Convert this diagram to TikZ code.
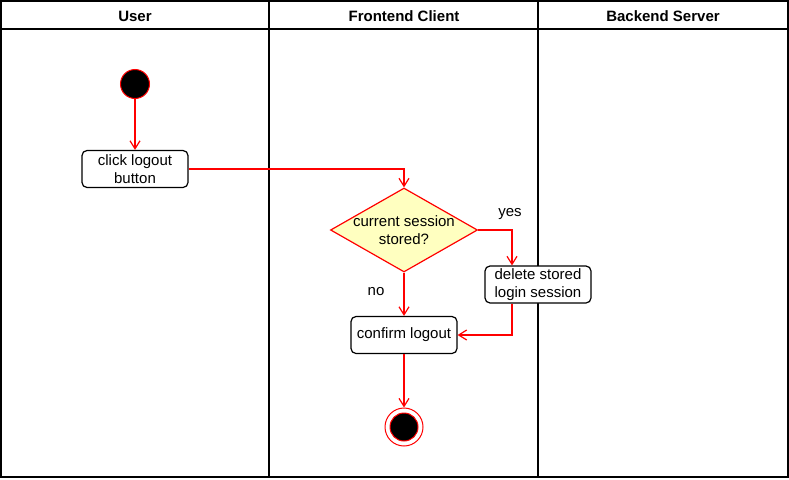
\documentclass[tikz,border=0pt]{standalone}
\usepackage{fontspec}
\setmainfont{Liberation Sans}
\usetikzlibrary{shapes.geometric,arrows.meta}
\definecolor{decfill}{HTML}{FFFFC0}

\begin{document}
\begin{tikzpicture}[x=1pt, y=-1pt,
					every node/.append style={font=\fontsize{15}{18}\selectfont, align=center},
					lane/.style={draw, line width=1.5pt},
					action/.style={draw, fill=white, rounded corners=5pt, line width=1.2pt, minimum width=106pt, minimum height=37pt, inner sep=0pt},
					decision/.style={diamond, draw=red, fill=decfill, line width=1.2pt, minimum width=147pt, minimum height=84pt, inner sep=0pt},
					startdot/.style={circle, fill=black, draw=red, line width=1pt, minimum size=29pt, inner sep=0pt},
					flow/.style={draw=red, line width=1.2pt, -{Straight Barb[length=8pt,width=10pt]}}]
					\useasboundingbox (0,0) rectangle (789,479);
					\begin{scope}[lane]
					\draw (1,1) rectangle (788,477);
					\draw (1,29) -- (788,29);
					\draw (269,1) -- (269,477);
					\draw (538,1) -- (538,477);
					\end{scope}
					\node[font=\fontsize{15}{18}\selectfont\bfseries] (user) at (135,16) {User};
					\node[font=\fontsize{15}{18}\selectfont\bfseries] (client) at (404,16) {Frontend Client};
					\node[font=\fontsize{15}{18}\selectfont\bfseries] (server) at (663,16) {Backend Server};
					\node[startdot] (start) at (135,84) {};
					\node[action] (click) at (135,169) {click logout\\button};
					\node[decision, label={[align=center]center:current session\\stored?}] (stored) at (404,230) {};
					\node[action] (delete) at (538,284.5) {delete stored\\login session};
					\node[action] (confirm) at (404,335) {confirm logout};
					\node[circle, draw=red, fill=white, line width=1pt, minimum size=38pt, inner sep=0pt] (stop) at (404,427) {};
					\node[startdot, minimum size=28pt] (stopin) at (stop) {};
					\node (yes) at (510,214) {yes};
					\node (no) at (376,292) {no};
					\begin{scope}[flow]
					\draw (start) -- (click);
					\draw (click) -| (stored);
					\draw (stored.east) -| ([xshift=-26pt]delete.north);
					\draw (stored) -- (confirm);
					\draw ([xshift=-26pt]delete.south) |- (confirm.east);
					\draw (confirm) -- (stop);
					\end{scope}
					\end{tikzpicture}
\end{document}
